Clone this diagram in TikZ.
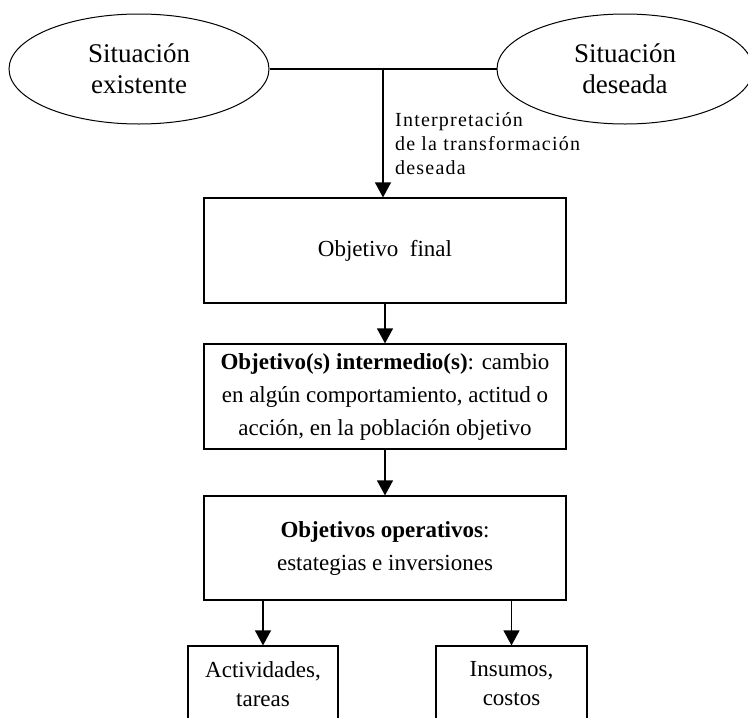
\documentclass[tikz,border=0pt]{standalone}
\usepackage{fontspec}
\setmainfont{Liberation Serif}
\newfontfamily\spacedfont[LetterSpace=6]{Liberation Serif}
\usetikzlibrary{shapes.geometric, arrows.meta, positioning}

\begin{document}
\begin{tikzpicture}[
  x=1pt, y=-1pt,
  situ/.style={draw, ellipse, line width=1pt, minimum width=260pt,
               minimum height=110pt, align=center,
               font=\fontsize{27}{31}\selectfont},
  objbox/.style={draw, rectangle, line width=1.2pt, minimum width=362pt,
                 minimum height=105pt, align=center, inner sep=0pt,
                 font=\fontsize{23}{33}\selectfont},
  smallbox/.style={draw, rectangle, line width=1.2pt, minimum height=76pt,
                   align=center, inner sep=0pt,
                   font=\fontsize{23}{29}\selectfont},
  flow/.style={-{Triangle[width=16pt, length=15pt]}, line width=1.2pt},
]
\useasboundingbox (0,0) rectangle (748,718);

% Situations at the top
\node[situ] (existente) at (139,69)  {Situación\\existente};
\node[situ, minimum width=256pt] (deseada) at (625,69) {Situación\\deseada};
\coordinate (split) at (383,70);

% Objective chain
\node[objbox] (final)  at (385,250.5) {Objetivo\ \ final};
\node[objbox] (interm) at (385,396.5)
  {\textbf{Objetivo(s) intermedio(s)}: cambio\\
   en algún comportamiento, actitud o\\
   acción, en la población objetivo};
\node[objbox, minimum height=104pt] (oper) at (385,548)
  {\textbf{Objetivos operativos}:\\estategias e inversiones};

% Bottom boxes (cut by the page edge)
\node[smallbox, minimum width=150pt] (activ)  at (263,684)   {Actividades,\\tareas};
\node[smallbox, minimum width=151pt] (insumo) at (511.5,684) {Insumos,\\costos};

% Connectors
\draw[line width=1.2pt] (existente.east) -- (deseada.west);
\draw[flow] (split) -- (split |- final.north);
\draw[flow] (final.south) -- (interm.north);
\draw[flow] (interm.south) -- (oper.north);
\draw[flow] (oper.south -| activ.north) -- (activ.north);
\draw[flow] (oper.south -| insumo.north) -- (insumo.north);

% Label on the first arrow
\node[anchor=north west, inner sep=0pt, align=left,
      font=\spacedfont\fontsize{20}{24}\selectfont] (interp) at (395,112)
  {Interpretación\\de la transformación\\deseada};
\end{tikzpicture}
\end{document}
